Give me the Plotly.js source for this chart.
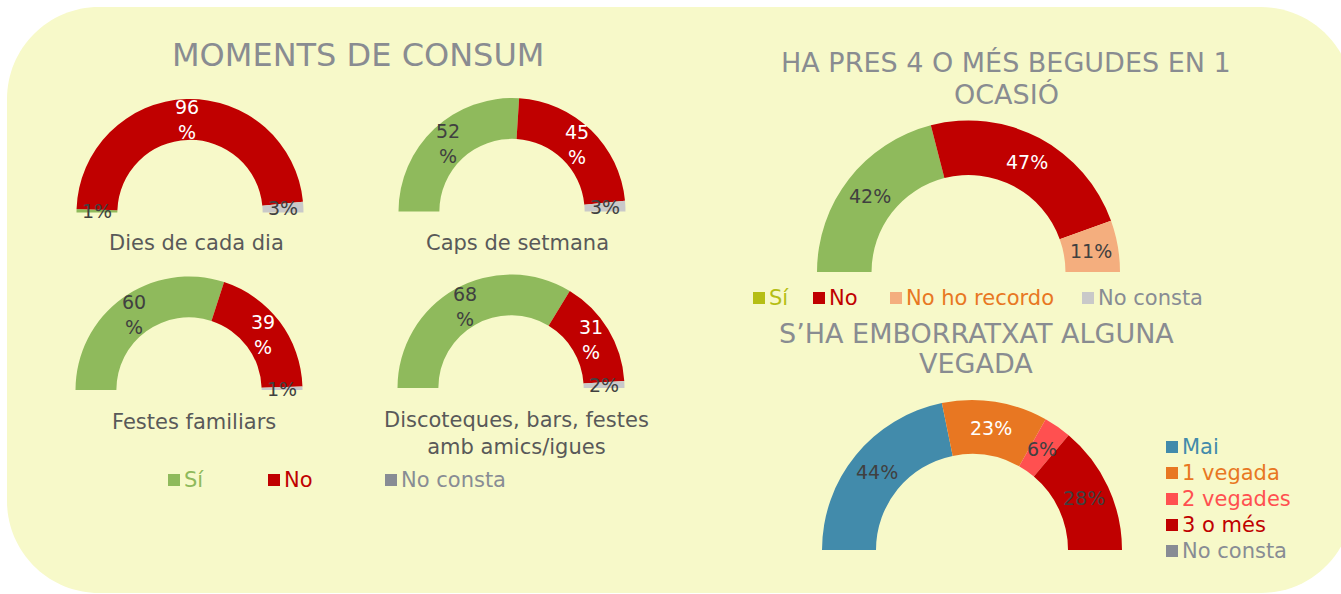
<!DOCTYPE html>
<html>
<head>
<meta charset="utf-8">
<script src="https://cdn.plot.ly/plotly-3.0.1.min.js"></script>
<style>
  html, body { margin: 0; padding: 0; overflow: hidden; background: #ffffff; }
  #chart { width: 1341px; height: 760px; }
</style>
</head>
<body>
<div id="chart"></div>
<script>
// Moments de consum (Sí / No / No consta, %)
var momentLabels = ['Sí', 'No', 'No consta'];
var momentColors = ['#8fba5c', '#c00000', '#c9c9c9'];
var momentTextColors = ['#404040', '#ffffff', '#404040'];
var momentLegendColors = ['#8fba5c', '#c00000', '#888c94'];
var diesCadaDia = [1, 96, 3];
var capsSetmana = [52, 45, 3];
var festesFamiliars = [60, 39, 1];
var discoteques = [68, 31, 2];
var momentNames = ['Dies de cada dia', 'Caps de setmana', 'Festes familiars',
                   'Discoteques, bars, festes<br>amb amics/igues'];

// Ha pres 4 o més begudes en 1 ocasió
var begudesLabels = ['Sí', 'No', 'No ho recordo', 'No consta'];
var begudesValues = [42, 47, 11, 0];
var begudesColors = ['#8fba5c', '#c00000', '#f4ae7e', '#c9c9c9'];
var begudesTextColors = ['#404040', '#ffffff', '#404040', '#404040'];
var begudesLegendSq = ['#b5be14', '#c00000', '#f4ae7e', '#c9c9c9'];
var begudesLegendTx = ['#b5be14', '#c00000', '#e87722', '#888c94'];

// S'ha emborratxat alguna vegada
var emborLabels = ['Mai', '1 vegada', '2 vegades', '3 o més', 'No consta'];
var emborValues = [44, 23, 6, 28, 0];
var emborColors = ['#428bab', '#e87722', '#ff5050', '#c00000', '#888c94'];
var emborTextColors = ['#404040', '#ffffff', '#404040', '#404040', '#404040'];

var W = 1341, H = 760;
var FONT = 'DejaVu Sans, sans-serif';
var HOLE = 0.64;
function X(px) { return px / W; }
function Y(py) { return 1 - py / H; }

var annotations = [];

// half donut: the visible slices go clockwise over the top from 9 o'clock,
// a transparent slice equal to the total fills the lower half
function halfDonut(labels, values, colors, textColors, cx, cy, R, wrap) {
  var total = values.reduce(function (a, b) { return a + b; }, 0);

  // data labels at the middle of each slice, like the original
  var cum = 0, rMid = R * (1 + HOLE) / 2;
  values.forEach(function (v, i) {
    var ang = Math.PI * (1 - (cum + v / 2) / total);
    cum += v;
    if (v === 0) return;
    annotations.push({
      text: (wrap && v >= 10) ? v + '<br>%' : v + '%',
      xref: 'paper', yref: 'paper',
      x: X(cx + rMid * Math.cos(ang)), y: Y(cy - rMid * Math.sin(ang)),
      xanchor: 'center', yanchor: 'middle', showarrow: false,
      font: { family: FONT, size: 19, color: textColors[i] }
    });
  });

  return {
    type: 'pie',
    labels: labels.concat(['_hidden']),
    values: values.concat([total]),
    textinfo: 'none',
    marker: { colors: colors.concat(['rgba(0,0,0,0)']), line: { width: 0 } },
    sort: false,
    direction: 'clockwise',
    rotation: -90,
    hole: HOLE,
    showlegend: false,
    hoverinfo: 'skip',
    domain: { x: [X(cx - R), X(cx + R)], y: [Y(cy + R), Y(cy - R)] }
  };
}

var data = [
  halfDonut(momentLabels, diesCadaDia, momentColors, momentTextColors, 190, 212.5, 113.5, true),
  halfDonut(momentLabels, capsSetmana, momentColors, momentTextColors, 512, 211.5, 113.5, true),
  halfDonut(momentLabels, festesFamiliars, momentColors, momentTextColors, 189, 390, 113.5, true),
  halfDonut(momentLabels, discoteques, momentColors, momentTextColors, 511, 388, 113.5, true),
  halfDonut(begudesLabels, begudesValues, begudesColors, begudesTextColors, 968.5, 272, 151.5, false),
  halfDonut(emborLabels, emborValues, emborColors, emborTextColors, 972, 550, 150, false)
];

// rounded background panel
function roundedRect(x0, y0, x1, y1, r) {
  var k = 0.5523 * r;
  function p(x, y) { return X(x) + ',' + Y(y); }
  return 'M' + p(x0 + r, y0) +
    ' L' + p(x1 - r, y0) +
    ' C' + p(x1 - r + k, y0) + ' ' + p(x1, y0 + r - k) + ' ' + p(x1, y0 + r) +
    ' L' + p(x1, y1 - r) +
    ' C' + p(x1, y1 - r + k) + ' ' + p(x1 - r + k, y1) + ' ' + p(x1 - r, y1) +
    ' L' + p(x0 + r, y1) +
    ' C' + p(x0 + r - k, y1) + ' ' + p(x0, y1 - r + k) + ' ' + p(x0, y1 - r) +
    ' L' + p(x0, y0 + r) +
    ' C' + p(x0, y0 + r - k) + ' ' + p(x0 + r - k, y0) + ' ' + p(x0 + r, y0) + ' Z';
}

var shapes = [{
  type: 'path', xref: 'paper', yref: 'paper', layer: 'below',
  path: roundedRect(7, 7, 1353, 593, 92),
  fillcolor: '#f7f9c9', line: { width: 0 }
}];

function addText(text, x, y, size, color) {
  annotations.push({
    text: text, xref: 'paper', yref: 'paper', x: X(x), y: Y(y),
    xanchor: 'center', yanchor: 'middle', showarrow: false,
    font: { family: FONT, size: size, color: color }
  });
}

// titles
var TITLE = '#898c91';
addText('MOMENTS DE CONSUM', 358, 55, 32, TITLE);
addText('HA PRES 4 O MÉS BEGUDES EN 1', 1006, 62, 27, TITLE);
addText('OCASIÓ', 1006, 94, 27, TITLE);
addText('S’HA EMBORRATXAT ALGUNA', 976, 333, 27, TITLE);
addText('VEGADA', 976, 364, 27, TITLE);

// category labels under the small half donuts
var CAT = '#595959';
addText(momentNames[0], 196, 243, 21, CAT);
addText(momentNames[1], 517, 243, 21, CAT);
addText(momentNames[2], 194, 422, 21, CAT);
addText(momentNames[3], 516, 433, 21, CAT);

// legend items: coloured square + coloured label
function legendItem(label, sqColor, txColor, x, y) {
  shapes.push({
    type: 'rect', xref: 'paper', yref: 'paper', layer: 'above',
    x0: X(x), x1: X(x + 12), y0: Y(y + 6), y1: Y(y - 6),
    fillcolor: sqColor, line: { width: 0 }
  });
  annotations.push({
    text: label, xref: 'paper', yref: 'paper', x: X(x + 14), y: Y(y),
    xanchor: 'left', yanchor: 'middle', showarrow: false,
    font: { family: FONT, size: 21, color: txColor }
  });
}

var leftLegendX = [168, 268, 385];
momentLabels.forEach(function (lab, i) {
  legendItem(lab, momentLegendColors[i], momentLegendColors[i], leftLegendX[i], 480);
});
var topLegendX = [753, 813, 890, 1082];
begudesLabels.forEach(function (lab, i) {
  legendItem(lab, begudesLegendSq[i], begudesLegendTx[i], topLegendX[i], 298);
});
emborLabels.forEach(function (lab, i) {
  legendItem(lab, emborColors[i], emborColors[i], 1166, 447 + i * 26);
});

var layout = {
  width: W, height: H,
  margin: { l: 0, r: 0, t: 0, b: 0 },
  paper_bgcolor: '#ffffff',
  plot_bgcolor: 'rgba(0,0,0,0)',
  showlegend: false,
  font: { family: FONT },
  shapes: shapes,
  annotations: annotations
};

Plotly.newPlot('chart', data, layout, { displayModeBar: false, staticPlot: true });
</script>
</body>
</html>
